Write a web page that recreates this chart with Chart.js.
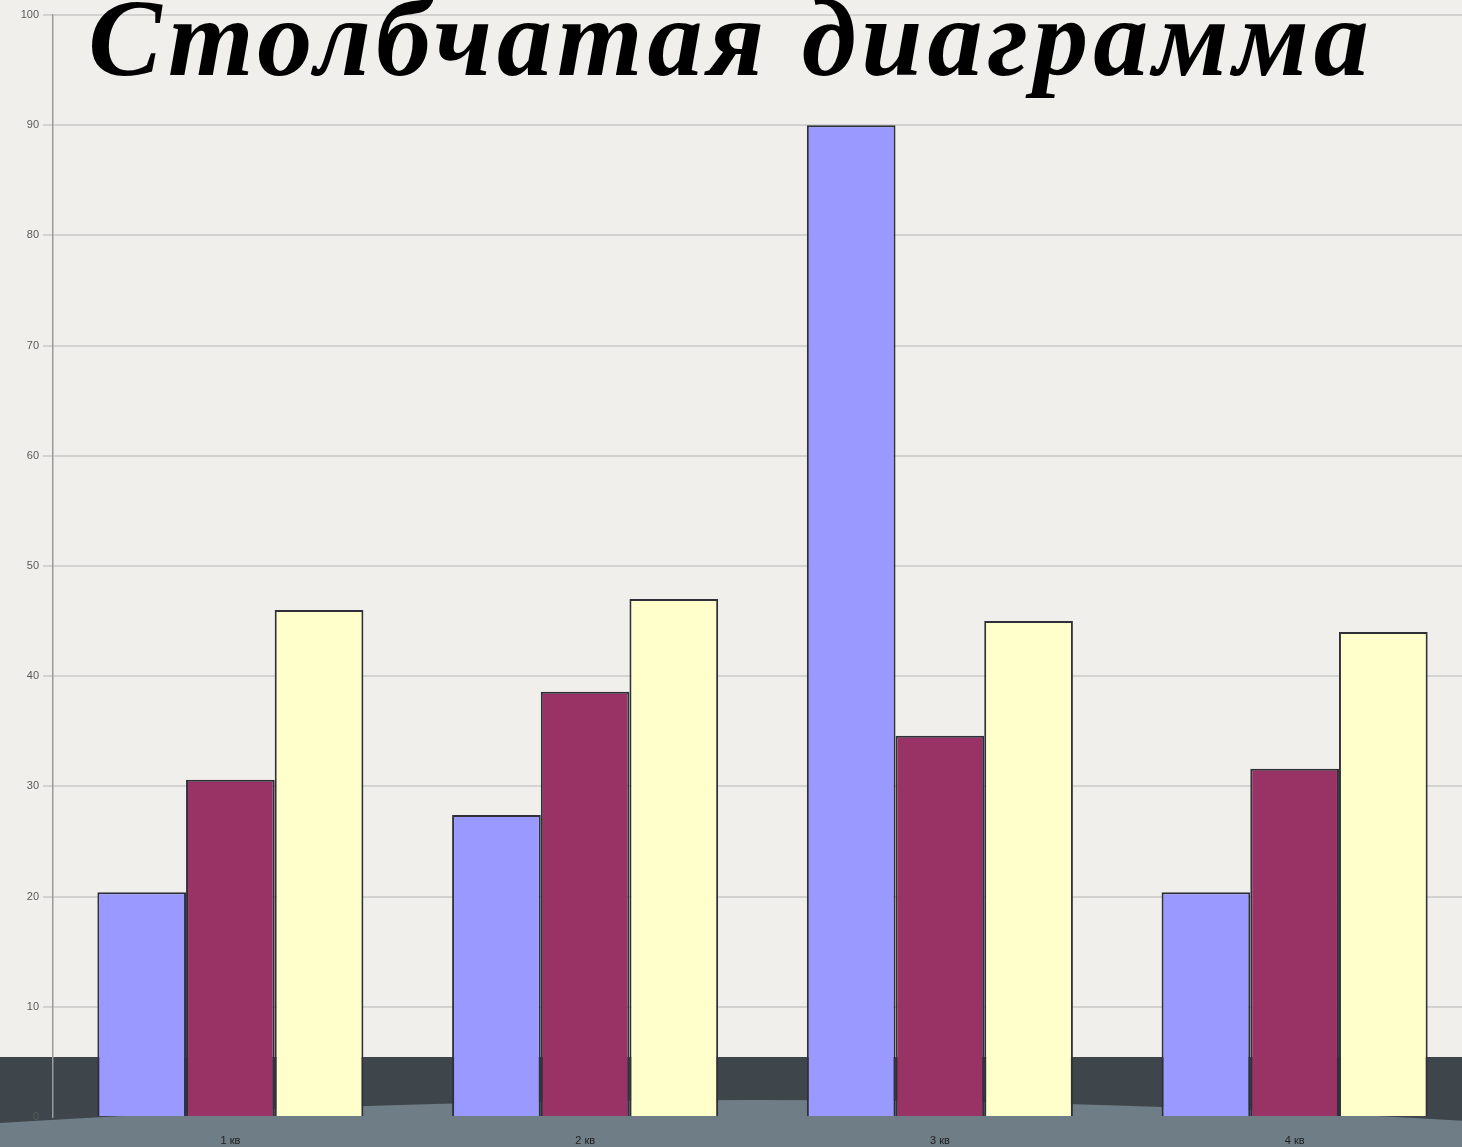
<!DOCTYPE html>
<html>
<head>
<meta charset="utf-8">
<script src="https://cdn.jsdelivr.net/npm/chart.js@4/dist/chart.umd.min.js"></script>
<style>
  html, body { margin:0; padding:0; overflow:hidden; }
  #stage { position:relative; width:1462px; height:1147px; overflow:hidden; background:#f1efeb; }
  #band { position:absolute; left:0; top:1057px; width:1462px; height:90px; background:#3e464b; overflow:hidden; }
  #band .light { position:absolute; left:-1750px; top:43px; width:5000px; height:1000px; border-radius:50%; background:#6f7d86; }
  #wrap { position:absolute; left:0; top:0; width:1472px; height:1147px; }
  #title { position:absolute; left:0; top:5px; width:1462px; text-align:center; line-height:0.6;
    font-family:"Liberation Serif", "DejaVu Serif", serif; font-style:italic; font-weight:bold;
    font-size:110px; letter-spacing:5px; color:#000; pointer-events:none; }
</style>
</head>
<body>
<div id="stage">
  <div id="band"><div class="light"></div></div>
  <div id="wrap"><canvas id="barChart" width="1472" height="1147"></canvas></div>
  <div id="title">Столбчатая диаграмма</div>
</div>
<script>
// Data
const quarters = ['1 кв', '2 кв', '3 кв', '4 кв'];
const series1 = [20.4, 27.4, 90, 20.4];
const series2 = [30.6, 38.6, 34.6, 31.6];
const series3 = [46, 47, 45, 44];
const yTicks = [0, 10, 20, 30, 40, 50, 60, 70, 80, 90, 100];

const bar = (data, color) => ({
  data, backgroundColor: color, borderColor: '#30303a', borderWidth: 2,
  categoryPercentage: 0.75, barPercentage: 1
});

new Chart(document.getElementById('barChart').getContext('2d'), {
  type: 'bar',
  data: {
    labels: quarters,
    datasets: [bar(series1, '#9999ff'), bar(series2, '#993366'), bar(series3, '#ffffcc')]
  },
  options: {
    responsive: false,
    animation: false,
    devicePixelRatio: 1,
    layout: { padding: { top: 15, right: 0, left: 0, bottom: 0 } },
    plugins: { legend: { display: false }, tooltip: { enabled: false } },
    scales: {
      x: {
        grid: { display: false },
        border: { display: false },
        ticks: { color: '#222', font: { family: 'Liberation Sans', size: 11 }, padding: 9 },
        afterFit: s => { s.height = 30; }
      },
      y: {
        min: 0, max: 100,
        afterBuildTicks: s => { s.ticks = yTicks.map(v => ({ value: v })); },
        grid: {
          color: ctx => ctx.tick && ctx.tick.value === 0 ? 'rgba(0,0,0,0)' : '#d2d2d0',
          lineWidth: 2, tickLength: 10
        },
        border: { color: '#9a9a9a', width: 1.5 },
        ticks: { color: '#5a5a5a', font: { family: 'Liberation Sans', size: 11 }, padding: 4 },
        afterFit: s => { s.width = 53; }
      }
    }
  }
});
</script>
</body>
</html>
